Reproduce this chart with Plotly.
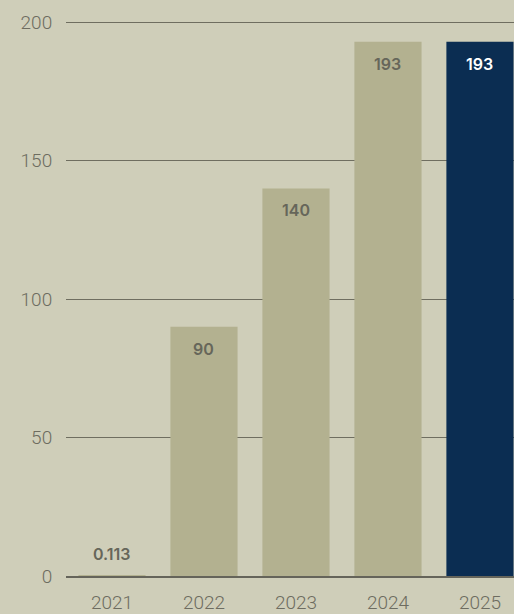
import plotly.graph_objects as go

years = ["2021", "2022", "2023", "2024", "2025"]
values = [0.113, 90, 140, 193, 193]
labels = ["0.113", "90", "140", "193", "193"]
bar_colors = ["#b3b190", "#b3b190", "#b3b190", "#b3b190", "#0b2d52"]
label_colors = ["#66665a", "#66665a", "#66665a", "#66665a", "#ffffff"]

BG = "#cfceb9"
fig = go.Figure()
fig.add_trace(go.Bar(x=years, y=values, marker=dict(color=bar_colors, line=dict(width=0)),
                     hoverinfo="skip"))

for i, (yr, v, t, c) in enumerate(zip(years, values, labels, label_colors)):
    inside = v > 10
    fig.add_annotation(x=i, y=v, xref="x", yref="y", text=t, showarrow=False, yanchor="middle",
                       yshift=-22 if inside else 22,
                       font=dict(family="Inter", size=16, color=c, weight=600))

fig.update_layout(
    width=514, height=614,
    margin=dict(l=66, r=0, t=21, b=38),
    paper_bgcolor=BG, plot_bgcolor=BG,
    bargap=0.27, showlegend=False,
    xaxis=dict(type="category", range=[-0.5, 4.37], showgrid=False, showline=True, linecolor="#65645a",
               linewidth=2, layer="above traces", ticks="outside", ticklen=8, tickcolor="rgba(0,0,0,0)",
               tickfont=dict(family="Roboto", size=19, color="#6d6c60", weight=300)),
    yaxis=dict(range=[0, 200.5], tickvals=[0, 50, 100, 150, 200], showgrid=True,
               gridcolor="#6f6e60", gridwidth=1, zeroline=False, ticks="outside",
               ticklen=9, tickcolor="rgba(0,0,0,0)",
               tickfont=dict(family="Roboto", size=19, color="#6d6c60", weight=300)),
)
fig.write_html("out.html", config={"displayModeBar": False},
               post_script="document.body.style.margin='0';document.body.style.overflow='hidden';")
